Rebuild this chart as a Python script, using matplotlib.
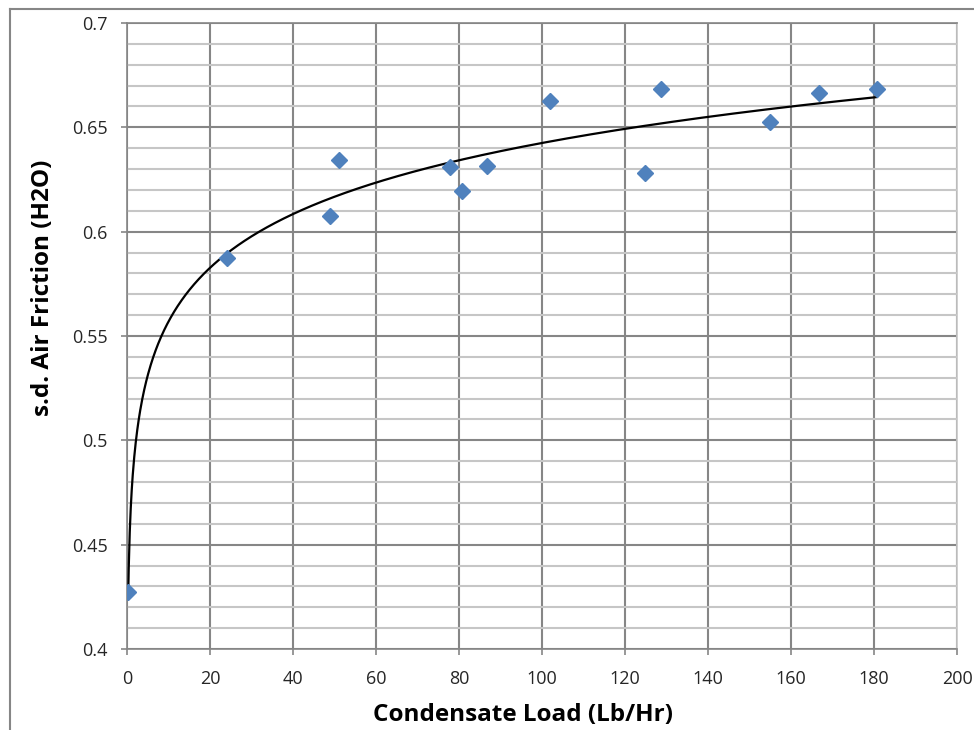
import numpy as np
import matplotlib
matplotlib.use("Agg")
import matplotlib.pyplot as plt
from matplotlib.ticker import MultipleLocator, FuncFormatter
from matplotlib.lines import Line2D

plt.rcParams['font.family'] = ['Open Sans', 'DejaVu Sans']

# Data
condensate_load = [0.3, 24.1, 48.9, 51.1, 77.8, 80.7, 86.7, 101.9, 124.8, 128.7, 154.9, 166.7, 180.7]
air_friction = [0.4273, 0.5874, 0.6075, 0.6343, 0.6310, 0.6195, 0.6315, 0.6626, 0.6281, 0.6684, 0.6526, 0.6665, 0.6684]

x_label = "Condensate Load (Lb/Hr)"
y_label = "s.d. Air Friction (H2O)"

fig = plt.figure(figsize=(9.74, 7.30), dpi=100)
ax = fig.add_axes([127/974, 1-649/730, (957-127)/974, (649-23)/730])

# logarithmic trend line fitted on the data
xs = np.array(condensate_load)
ys = np.array(air_friction)
a, b = np.polyfit(np.log(xs), ys, 1)
xt = np.linspace(xs.min(), xs.max(), 1500)
ax.plot(xt, a*np.log(xt)+b, color='black', lw=1.6, zorder=3)

ax.plot(xs, ys, linestyle='none', marker='D', ms=8, color='#4F81BD', zorder=4)

ax.set_xlim(0, 200)
ax.set_ylim(0.4, 0.7)
ax.xaxis.set_major_locator(MultipleLocator(20))
ax.yaxis.set_major_locator(MultipleLocator(0.05))
ax.yaxis.set_minor_locator(MultipleLocator(0.01))
ax.yaxis.set_major_formatter(FuncFormatter(lambda v, p: f"{v:g}"))

ax.grid(which='major', axis='both', color='#868686', lw=1.5, zorder=1)
ax.grid(which='minor', axis='y', color='#c6c6c6', lw=1.5, zorder=0)
ax.set_axisbelow(True)

for s in ax.spines.values():
    s.set_color('#868686')
    s.set_linewidth(1.2)
ax.spines['right'].set_color('#c6c6c6')

ax.tick_params(axis='both', which='major', direction='out', length=4.5, width=1.2,
               color='#868686', labelsize=13, labelcolor='#262626')
ax.tick_params(axis='x', pad=10.5)
ax.tick_params(axis='y', pad=9.5)
ax.tick_params(axis='y', which='minor', length=0)

ax.set_xlabel(x_label, fontsize=17.5, fontweight='bold')
ax.set_ylabel(y_label, fontsize=17.5, fontweight='bold')
ax.xaxis.set_label_coords((523-127)/830, (649-703)/626)
ax.yaxis.set_label_coords((55-127)/830, (649-288)/626)

# outer chart border
fig.add_artist(Line2D([10/974, 10/974], [0, 1-9/730], transform=fig.transFigure, color='#868686', lw=1.5))
fig.add_artist(Line2D([10/974, 1], [1-9/730, 1-9/730], transform=fig.transFigure, color='#868686', lw=1.5))

fig.savefig("out.png", dpi=100)
